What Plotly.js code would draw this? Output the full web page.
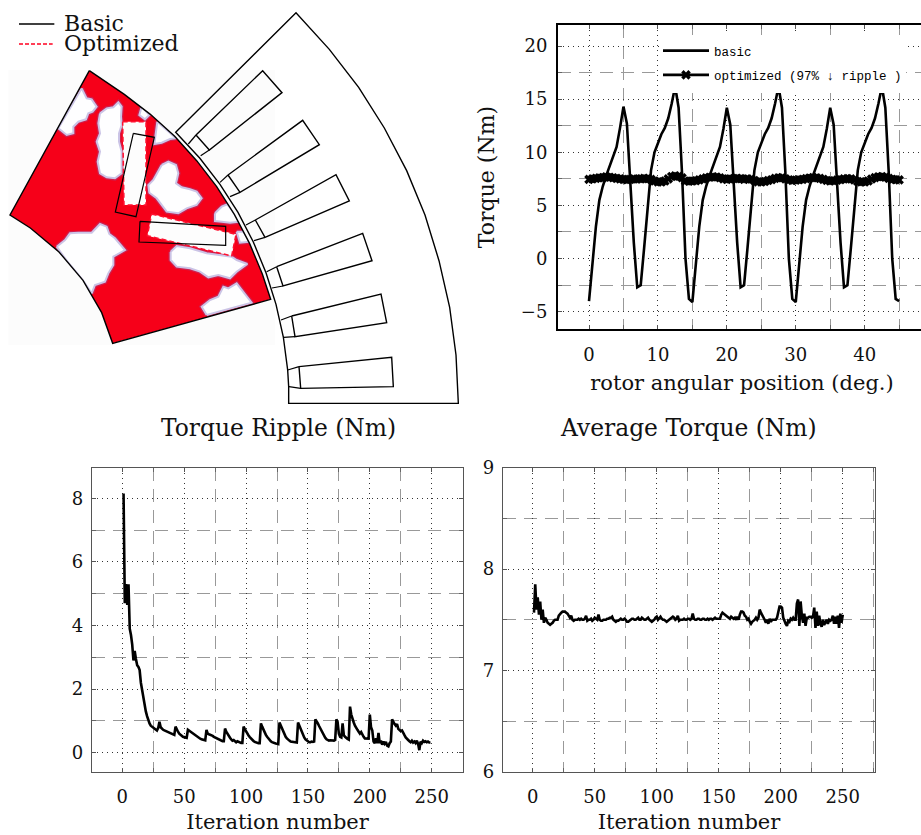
<!DOCTYPE html>
<html><head><meta charset="utf-8">
<script src="https://cdn.plot.ly/plotly-3.0.1.min.js"></script>
<style>html,body{margin:0;padding:0;background:#fff;overflow:hidden;width:921px;height:835px}#g{width:930px;height:835px}</style>
</head><body><div id="g"></div>
<script>
// ---- Torque vs rotor angle (0..45 deg, 0.5 deg steps)
const torqueBasic=[-4.0,-0.5,3.0,5.5,6.8,7.8,8.7,9.5,10.5,12.3,14.3,12.7,7.0,1.5,-2.7,-2.5,1.0,5.0,8.3,10.0,10.9,11.7,12.3,13.2,14.6,16.2,14.2,8.0,0.0,-3.8,
-4.1,-0.5,3.0,5.5,6.8,7.8,8.7,9.5,10.5,12.2,14.2,12.6,7.0,1.5,-2.7,-2.5,1.0,5.0,8.3,10.0,10.9,11.7,12.3,13.2,14.6,16.2,14.2,8.0,0.0,-3.8,
-4.1,-0.5,3.0,5.5,6.8,7.8,8.7,9.5,10.5,12.2,14.2,12.6,7.0,1.5,-2.7,-2.5,1.0,5.0,8.3,10.0,10.9,11.7,12.3,13.2,14.6,16.2,14.2,8.0,0.0,-3.8,-4.0];
const torqueOpt=[7.45,7.5,7.55,7.6,7.62,7.7,7.65,7.6,7.55,7.5,7.45,7.42,7.45,7.5,7.48,7.5,7.55,7.52,7.45,7.3,7.22,7.2,7.3,7.5,7.72,7.78,7.75,7.6,7.3,7.28,7.3,7.32,7.4,7.5,7.6,7.65,7.7,7.68,7.6,7.5,7.45,7.5,7.52,7.55,7.52,7.45,
7.5,7.48,7.35,7.22,7.2,7.25,7.35,7.42,7.55,7.6,7.62,7.5,7.4,7.35,7.38,7.42,7.45,7.52,7.58,7.62,7.6,7.55,7.45,7.35,7.3,7.32,7.38,7.42,7.5,7.52,7.5,7.4,7.25,7.22,7.2,7.3,7.48,7.62,7.7,7.72,7.65,7.55,7.45,7.42,7.4];
const angleStep=0.5;
// ---- Torque ripple history (iterations 1..250)
const rippleHist=[8.15,4.7,5.3,4.65,5.3,3.9,3.7,3.4,2.9,3.2,2.95,2.75,2.7,2.6,2.2,1.95,1.7,1.5,1.3,1.15,1.0,.92,.85,.82,.78,.74,.72,.7,.78,.97,
.8,.75,.72,.7,.68,.66,.64,.62,.62,.6,.58,.56,
.82,.72,.66,.6,.56,.53,.5,.49,.48,.47,
.72,.69,.66,.63,.6,.57,.54,.51,.48,.46,.44,.42,.41,.4,.39,
.72,.6,.58,.57,.55,.53,.5,.48,.45,.43,.41,.39,.37,.36,.36,
.76,.66,.58,.52,.47,.42,.38,.4,.36,.33,.36,.34,.32,.31,.31,
.82,.74,.66,.6,.54,.49,.44,.4,.37,.34,.32,.31,.3,.3,
.92,.82,.72,.64,.56,.5,.44,.4,.36,.33,.31,.3,.29,.28,.27,
.95,.86,.76,.66,.58,.5,.45,.4,.38,.35,.34,.34,.33,.32,.32,
.95,.85,.75,.65,.56,.48,.42,.38,.35,.33,.33,.35,.34,.35,
1.05,1.0,.92,.84,.76,.68,.6,.53,.47,.42,.39,.38,.39,.38,.38,.38,.4,
1.05,.95,.6,.5,.48,.92,.55,.5,.45,.43,.41,
1.45,1.2,1.05,.95,.85,.8,.72,.66,.6,.65,.55,.5,.45,.45,.44,.44,
1.2,.8,.7,.35,.3,.45,.3,.62,.3,.38,.25,.35,.28,.34,.22,.2,.3,.35,
1.05,.95,.9,.85,.9,.75,.72,.68,.7,.6,.55,.48,.42,.4,.36,.33,.38,.32,.35,.3,.38,.28,.08,.35,.3,.38,.34,.36,.33,.35,.32,.32];
// ---- Average torque history (iterations 1..250)
const avgHist=[7.57,7.85,7.6,7.72,7.55,7.68,7.5,7.6,7.47,7.52,
7.5,7.47,7.46,7.45,7.46,7.47,7.49,7.5,7.5,7.5,
7.54,7.56,7.57,7.58,7.58,7.58,7.57,7.56,7.54,7.52,
7.54,7.5,7.49,7.5,7.5,7.5,7.51,7.5,7.51,7.5,
7.5,7.51,7.54,7.49,7.5,7.5,7.51,7.49,7.5,7.52,
7.51,7.5,7.55,7.5,7.49,7.49,7.5,7.5,7.5,7.51,
7.51,7.52,7.52,7.53,7.5,7.49,7.48,7.49,7.49,7.5,
7.51,7.5,7.5,7.51,7.5,7.48,7.48,7.49,7.5,7.51,
7.51,7.5,7.5,7.51,7.52,7.5,7.5,7.52,7.51,7.5,
7.5,7.51,7.52,7.5,7.49,7.48,7.49,7.5,7.52,7.53,
7.5,7.52,7.53,7.51,7.5,7.5,7.49,7.48,7.49,7.5,
7.51,7.52,7.53,7.52,7.5,7.51,7.54,7.49,7.5,7.5,
7.5,7.51,7.5,7.5,7.51,7.51,7.5,7.51,7.56,7.51,
7.5,7.5,7.51,7.51,7.5,7.5,7.51,7.51,7.5,7.5,
7.51,7.5,7.51,7.51,7.5,7.51,7.52,7.51,7.51,7.51,
7.51,7.55,7.57,7.56,7.55,7.54,7.53,7.52,7.51,7.53,
7.52,7.51,7.52,7.5,7.53,7.5,7.55,7.58,7.58,7.57,
7.54,7.53,7.5,7.51,7.48,7.46,7.48,7.49,7.5,7.52,
7.5,7.52,7.6,7.57,7.55,7.53,7.5,7.47,7.5,7.46,
7.51,7.48,7.5,7.5,7.5,7.5,7.52,7.58,7.63,7.63,
7.62,7.52,7.48,7.46,7.44,7.49,7.48,7.51,7.5,7.52,
7.5,7.5,7.66,7.7,7.44,7.68,7.54,7.47,7.56,7.44,
7.52,7.52,7.53,7.53,7.52,7.53,7.62,7.42,7.58,7.44,
7.54,7.46,7.43,7.5,7.45,7.48,7.5,7.46,7.5,7.49,
7.5,7.54,7.46,7.53,7.46,7.54,7.42,7.56,7.47,7.55];
// ---- Motor cross-section outlines (diagram units)
const statorOutline=[[866,1160],[866,1210],[1375,1210],[1368,1065],[1349,922],[1317,782],[1275,645],[1220,512],[1153,384],[1076,262],[988,148],[888,38],[527,397],[599,474],[660,553],[714,637],[760,726],[798,818],[828,913],[850,1011],[863,1110],[866,1160]];
const statorSlots=[
[[897,1100],[1175,1072],[1180,1160],[902,1165],[897,1100]],
[[875,948],[1143,882],[1160,968],[885,1010],[875,948]],
[[830,800],[1088,700],[1116,782],[849,858],[830,800]],
[[766,660],[1008,524],[1048,603],[795,712],[766,660]],
[[684,525],[908,361],[958,434],[720,577],[684,525]],
[[588,405],[788,212],[846,278],[628,450],[588,405]]];
const slotWedges=[
[[863,1110],[897,1100]],[[867,1160],[902,1165]],
[[843,960],[875,948]],[[851,1012],[885,1010]],
[[800,815],[830,800]],[[816,864],[849,858]],
[[738,675],[766,660]],[[762,722],[795,712]],
[[660,547],[684,525]],[[690,590],[720,577]],
[[565,432],[588,405]],[[602,467],[628,450]]];
const rotorOutline=[[268,212],[373,283],[451,343],[524,409],[590,482],[650,560],[703,643],[749,731],[787,822],[812,898],[338,1030],[305,938],[249,841],[177,756],[91,684],[30,645],[268,212]];
const imageBackdrop=[[25,210],[825,210],[825,1035],[25,1035],[25,210]];
const voidRegions=[
[[245,265],[260,295],[275,298],[290,320],[278,335],[265,340],[258,358],[235,365],[220,380],[220,400],[200,405],[175,385]],
[[300,340],[320,325],[340,322],[355,307],[365,320],[363,350],[365,375],[357,400],[357,425],[365,455],[365,490],[365,520],[345,535],[320,532],[300,520],[293,485],[300,455],[290,425],[300,400],[295,370]],
[[425,320],[448,345],[435,358],[418,345]],
[[472,365],[528,415],[510,417],[485,428],[463,432],[468,395]],
[[485,495],[505,485],[528,495],[535,520],[528,550],[545,562],[570,568],[590,575],[605,595],[590,615],[560,625],[535,640],[500,635],[485,615],[470,595],[448,578],[445,555],[460,540],[470,520]],
[[645,640],[665,620],[682,613],[700,635],[718,665],[690,668],[665,665],[645,663]],
[[710,695],[730,695],[750,725],[720,728]],
[[512,755],[530,738],[570,745],[620,760],[695,770],[710,780],[742,792],[725,805],[710,815],[690,835],[670,830],[655,825],[625,832],[600,815],[570,805],[530,800],[512,780]],
[[170,740],[195,720],[210,700],[235,698],[275,698],[300,672],[320,680],[328,702],[345,715],[375,750],[340,770],[340,795],[325,820],[315,845],[285,855],[275,880],[249,841],[200,782]],
[[620,945],[605,920],[630,900],[655,890],[670,860],[685,865],[710,850],[725,870],[740,890],[755,908]]];
const optimizedMagnets=[
[[368,365],[438,365],[438,615],[372,615],[368,365]],
[[455,642],[708,703],[695,768],[442,707],[455,642]]];
const basicMagnets=[
[[400,400],[463,412],[408,650],[346,636],[400,400]],
[[420,664],[677,679],[677,736],[417,726],[420,664]]];
const motorKeyBasic=[[57,72],[163,72]];
const motorKeyOptimized=[[57,132],[158,132]];

const W=930,H=835,SERIF='"DejaVu Serif",serif',MONO='"Liberation Mono",monospace',INK='#111';
const px=v=>v/W, py=v=>1-v/H;
const xs=p=>p.map(q=>q[0]), ys=p=>p.map(q=>q[1]);
const iters=a=>a.map((_,i)=>i+1);
const traces=[];
function poly(p,o){traces.push(Object.assign({type:'scatter',mode:'lines',x:xs(p),y:ys(p),xaxis:'x4',yaxis:'y4',showlegend:false,hoverinfo:'skip'},o));}
poly(rotorOutline,{fill:'toself',fillcolor:'#f60019',line:{width:0}});
voidRegions.forEach(p=>poly(p.concat([p[0]]),{line:{color:'rgba(170,60,130,0.5)',width:4.5}}));
voidRegions.forEach(p=>poly(p.concat([p[0]]),{fill:'toself',fillcolor:'#fefeff',line:{color:'#cbc4e6',width:2}}));
// the pale image backdrop with the rotor cut out keeps the soft edges inside the rotor
const holeRing=imageBackdrop.concat([[null,null]]).concat(rotorOutline.slice().reverse());
poly(holeRing,{fill:'toself',fillcolor:'#fcfcfc',line:{width:0}});
optimizedMagnets.forEach(p=>poly(p,{fill:'toself',fillcolor:'#fdfdfd',line:{color:'#ff1030',width:1.5,dash:'5px,3px'}}));
basicMagnets.forEach(p=>poly(p,{line:{color:'#000',width:1.2}}));
poly(rotorOutline,{line:{color:'#000',width:1.4}});
poly(statorOutline,{line:{color:'#000',width:1.4}});
statorSlots.forEach(p=>poly(p,{line:{color:'#000',width:1.4}}));
slotWedges.forEach(p=>poly(p,{line:{color:'#000',width:1.2}}));
poly(motorKeyBasic,{line:{color:'#000',width:1.3}});
poly(motorKeyOptimized,{line:{color:'#ff0020',width:1.3,dash:'4px,2px'}});

const angles=torqueBasic.map((_,i)=>i*angleStep);
traces.push({type:'scatter',mode:'lines',name:'basic',x:angles,y:torqueBasic,xaxis:'x',yaxis:'y',line:{color:'#000',width:2.6},legendgroup:'a'});
traces.push({type:'scatter',mode:'lines+markers',name:'optimized (97% ↓ ripple )',x:angles,y:torqueOpt,xaxis:'x',yaxis:'y',line:{color:'#000',width:2.6},marker:{symbol:'x',size:8.5,color:'#000'},legendgroup:'b'});
traces.push({type:'scatter',mode:'lines',x:iters(rippleHist),y:rippleHist,xaxis:'x2',yaxis:'y2',line:{color:'#000',width:2.6},showlegend:false});
traces.push({type:'scatter',mode:'lines',x:iters(avgHist),y:avgHist,xaxis:'x3',yaxis:'y3',line:{color:'#000',width:2.6},showlegend:false});

const DOT='1px,4px',DASH='13px,8px';
function ax(dom,range,dt,title,titleSize,standoff,opt){return Object.assign({domain:dom,range,tick0:0,dtick:dt,showline:true,mirror:'ticks',linecolor:'#555',linewidth:1.3,
 ticks:'inside',ticklen:4,tickcolor:'#555',tickwidth:1,tickfont:{family:SERIF,size:18,color:INK},ticklabelstandoff:8,
 showgrid:true,gridcolor:'#333',griddash:DOT,gridwidth:1,zeroline:false,
 minor:{dtick:dt/2,tick0:0,showgrid:true,gridcolor:'#999',griddash:DASH,gridwidth:1.4,ticks:'inside',ticklen:4,tickcolor:'#666'},
 title:{text:title,font:{family:SERIF,size:titleSize,color:INK},standoff}},opt||{});}
const layout={width:W,height:H,margin:{l:0,r:0,t:0,b:0,pad:0},paper_bgcolor:'#fff',plot_bgcolor:'#fff',hovermode:false,showlegend:true,
 legend:{x:px(658),y:py(36),xanchor:'left',yanchor:'top',bgcolor:'rgba(0,0,0,0)',borderwidth:0,itemwidth:46,tracegroupgap:5,font:{family:MONO,size:12.5,color:'#000'},itemclick:false,itemdoubleclick:false},
 xaxis:ax([px(558),px(926)],[-4.5,48.9],10,'rotor angular position (deg.)',21,12,{linecolor:'#000',linewidth:2,anchor:'y'}),
 yaxis:ax([py(329),py(25)],[-6.63,21.98],5,'Torque (Nm)',22,20,{linecolor:'#000',linewidth:2,anchor:'x',ticklabelstandoff:5}),
 xaxis2:ax([px(92),px(463)],[-24.5,275.3],50,'Iteration number',21,8,{anchor:'y2'}),
 yaxis2:ax([py(772),py(467.5)],[-0.607,8.97],2,'',12,0,{anchor:'x2',ticklabelstandoff:4}),
 xaxis3:ax([px(503),px(875)],[-24,276],50,'Iteration number',21,8,{anchor:'y3'}),
 yaxis3:ax([py(772),py(467.5)],[6,9],1,'',12,0,{anchor:'x3',ticklabelstandoff:4}),
 xaxis4:{domain:[0,px(470)],range:[0,1410],visible:false,anchor:'y4'},
 yaxis4:{domain:[py(420),1],range:[1260,0],visible:false,anchor:'x4'},
 shapes:[{type:'rect',xref:'paper',yref:'paper',x0:px(660),x1:px(906),y0:py(93),y1:py(35),fillcolor:'#fff',line:{width:0},layer:'above'}],
 annotations:[
 {xref:'x4',yref:'y4',x:185,y:70,text:'Basic',showarrow:false,xanchor:'left',font:{family:SERIF,size:22,color:INK}},
 {xref:'x4',yref:'y4',x:185,y:130,text:'Optimized',showarrow:false,xanchor:'left',font:{family:SERIF,size:22,color:INK}},
 {xref:'paper',yref:'paper',x:px(278),y:py(428),text:'Torque Ripple (Nm)',showarrow:false,xanchor:'center',font:{family:SERIF,size:23.4,color:INK}},
 {xref:'paper',yref:'paper',x:px(688),y:py(428),text:'Average Torque (Nm)',showarrow:false,xanchor:'center',font:{family:SERIF,size:23.4,color:INK}}
 ]};
Plotly.newPlot('g',traces,layout,{displayModeBar:false,responsive:false});
</script></body></html>
